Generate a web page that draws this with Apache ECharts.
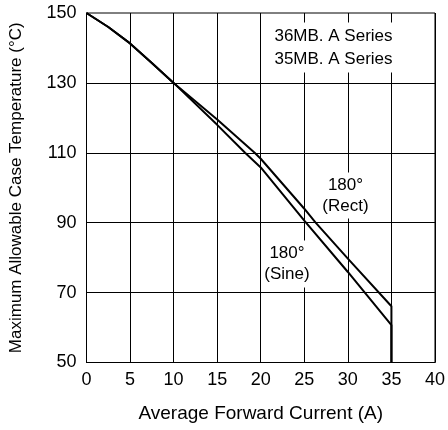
<!DOCTYPE html>
<html>
<head>
<meta charset="utf-8">
<script src="https://cdn.jsdelivr.net/npm/echarts@6/dist/echarts.min.js"></script>
<style>
html,body{margin:0;padding:0;background:#fff;}
#c{width:448px;height:430px;}
</style>
</head>
<body>
<div id="c"></div>
<script>
const rectX = [0, 2.5, 5, 7.5, 10, 15, 19.3, 20, 25, 26.3, 30, 35, 35];
const rectY = [150, 146, 141.3, 135.7, 130, 119.5, 110, 108.3, 94.0, 90, 79.7, 66.1, 50];
const sineX = [0, 2.5, 5, 7.5, 10, 15, 18.2, 20, 25, 30, 35, 35];
const sineY = [150, 146, 141.3, 135.7, 130, 118, 110, 105.8, 90.6, 75.9, 60.7, 50];
const yTicks = [50, 70, 90, 110, 130, 150];
const xTicks = [0, 5, 10, 15, 20, 25, 30, 35, 40];
const seriesLabels = ['36MB. A Series', '35MB. A Series'];
const curveLabels = [['180°', '(Rect)'], ['180°', '(Sine)']];

const FONT = "'Liberation Sans', Arial, Helvetica, sans-serif";
const chart = echarts.init(document.getElementById('c'));
const pair = (xs, ys) => xs.map((x, i) => [x, ys[i]]);

chart.setOption({
  animation: false,
  backgroundColor: '#fff',
  grid: { left: 85, right: 13, top: 13, bottom: 67.5, show: true, borderColor: '#000', borderWidth: 1, containLabel: false },
  xAxis: {
    type: 'value', min: xTicks[0], max: xTicks[xTicks.length - 1], interval: 5,
    name: 'Average Forward Current (A)', nameLocation: 'middle', nameGap: 42,
    nameTextStyle: { fontFamily: FONT, fontSize: 19, color: '#000' },
    axisLine: { show: true, lineStyle: { color: '#000', width: 1 } },
    axisTick: { show: false },
    axisLabel: { fontFamily: FONT, fontSize: 18, color: '#000', margin: 9 },
    splitLine: { show: true, lineStyle: { color: '#000', width: 1 } }
  },
  yAxis: {
    type: 'value', min: yTicks[0], max: yTicks[yTicks.length - 1],
    name: 'Maximum Allowable Case Temperature (°C)', nameLocation: 'middle', nameGap: 61.5,
    nameTextStyle: { fontFamily: FONT, fontSize: 17, color: '#000' },
    axisLine: { show: true, lineStyle: { color: '#000', width: 1 } },
    axisTick: { show: false, customValues: yTicks },
    axisLabel: { fontFamily: FONT, fontSize: 18, color: '#000', margin: 10, customValues: yTicks },
    splitLine: { show: false }
  },
  series: [
    {
      type: 'line', data: pair(rectX, rectY), symbol: 'none', smooth: false,
      lineStyle: { color: '#000', width: 2 }, z: 5,
      markLine: {
        silent: true, symbol: 'none', label: { show: false },
        lineStyle: { color: '#000', width: 1, type: 'solid' },
        data: yTicks.slice(1, -1).map(v => ({ yAxis: v }))
      }
    },
    {
      type: 'line', data: pair(sineX, sineY), symbol: 'none', smooth: false,
      lineStyle: { color: '#000', width: 2 }, z: 5
    }
  ],
  graphic: [
    { type: 'text', x: 333.5, y: 47.5, z: 100, style: { text: seriesLabels.join('\n'), font: '17px ' + FONT, fill: '#000', align: 'center', verticalAlign: 'middle', lineHeight: 23, backgroundColor: '#fff', padding: [2, 3] } },
    { type: 'text', x: 345.5, y: 195.5, z: 100, style: { text: curveLabels[0].join('\n'), font: '17px ' + FONT, fill: '#000', align: 'center', verticalAlign: 'middle', lineHeight: 21, backgroundColor: '#fff', padding: [2, 2] } },
    { type: 'text', x: 287, y: 264, z: 100, style: { text: curveLabels[1].join('\n'), font: '17px ' + FONT, fill: '#000', align: 'center', verticalAlign: 'middle', lineHeight: 21.5, backgroundColor: '#fff', padding: [2, 2] } }
  ]
});
</script>
</body>
</html>
